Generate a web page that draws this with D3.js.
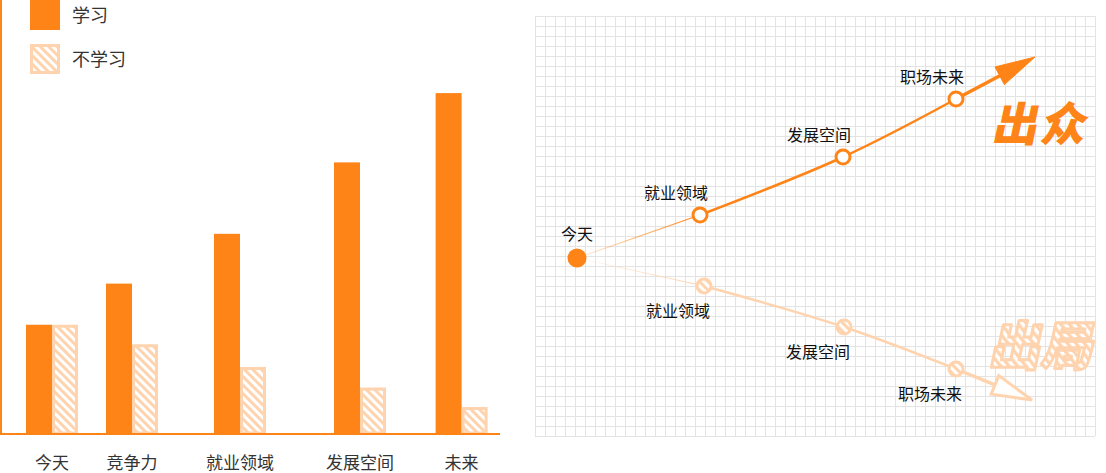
<!DOCTYPE html>
<html>
<head>
<meta charset="utf-8">
<script src="https://cdn.jsdelivr.net/npm/d3@7/dist/d3.min.js"></script>
<style>
  body { margin: 0; background: #fff; }
  svg { display: block; font-family: "Noto Sans CJK SC", "Noto Sans", sans-serif; }
</style>
</head>
<body>
<div id="chart"></div>
<script>
// bar chart data
const stages = ["今天", "竞争力", "就业领域", "发展空间", "未来"];
const stageAt = [1, 2, 3.35, 4.85, 6.12];      // stage position on the x axis
const study = [10, 13.8, 18.4, 25, 31.4];
const noStudy = [10, 8.2, 6.1, 4.2, 2.4];
const seriesNames = ["学习", "不学习"];

// path chart data (grid units)
const pathLabels = ["今天", "就业领域", "发展空间", "职场未来"];
const upX = [4.2, 16.5, 30.8, 42.1];
const upY = [17.8, 22.1, 27.9, 33.7];
const downX = [4.2, 16.9, 30.9, 42.1];
const downY = [17.8, 15.0, 10.9, 6.7];
const upTip = [50.0, 37.9];
const downTip = [49.7, 3.6];

const orange = "#ff8417";
const light = "#ffd3ad";

const svg = d3.select("#chart").append("svg")
    .attr("width", 1106)
    .attr("height", 473);

const defs = svg.append("defs");
const hatch = defs.append("pattern")
    .attr("id", "hatch")
    .attr("patternUnits", "userSpaceOnUse")
    .attr("width", 6).attr("height", 6)
    .attr("patternTransform", "rotate(-45)");
hatch.append("rect").attr("width", 6).attr("height", 6).attr("fill", "#fff");
hatch.append("rect").attr("width", 3).attr("height", 6).attr("fill", light);

// ---------- left: bars ----------
const x = d3.scaleLinear().domain([0.35, 6.6]).range([0, 500]);
const y = d3.scaleLinear().domain([0, 40]).range([433, 0]);
const bw = 26;

const bars = svg.append("g");

bars.selectAll(".study")
    .data(study)
    .enter().append("rect")
    .attr("x", (d, i) => x(stageAt[i]) - bw)
    .attr("y", d => y(d))
    .attr("width", bw)
    .attr("height", d => y(0) - y(d))
    .attr("fill", orange);

bars.selectAll(".nostudy")
    .data(noStudy)
    .enter().append("rect")
    .attr("x", (d, i) => x(stageAt[i]) + 1.5)
    .attr("y", d => y(d) + 1.5)
    .attr("width", bw - 3)
    .attr("height", d => y(0) - y(d) - 1.5)
    .attr("fill", "url(#hatch)")
    .attr("stroke", light)
    .attr("stroke-width", 3);

// axes lines
svg.append("line").attr("x1", 1).attr("x2", 1).attr("y1", 0).attr("y2", y(0))
    .attr("stroke", orange).attr("stroke-width", 2);
svg.append("line").attr("x1", 0).attr("x2", 500).attr("y1", y(0) + 1).attr("y2", y(0) + 1)
    .attr("stroke", orange).attr("stroke-width", 2);

bars.selectAll(".lab")
    .data(stages)
    .enter().append("text")
    .attr("x", (d, i) => x(stageAt[i]))
    .attr("y", 469)
    .attr("text-anchor", "middle")
    .attr("font-size", 17)
    .attr("fill", "#333")
    .text(d => d);

// legend
const legend = svg.append("g");
legend.append("rect").attr("x", 30).attr("y", 0).attr("width", 30).attr("height", 30).attr("fill", orange);
legend.append("rect").attr("x", 31.5).attr("y", 45.5).attr("width", 27).attr("height", 27)
    .attr("fill", "url(#hatch)").attr("stroke", light).attr("stroke-width", 3);
legend.selectAll("text")
    .data(seriesNames)
    .enter().append("text")
    .attr("x", 72)
    .attr("y", (d, i) => 22 + i * 44)
    .attr("font-size", 18)
    .attr("fill", "#333")
    .text(d => d);

// ---------- right: grid and paths ----------
const gx = d3.scaleLinear().domain([0, 56]).range([535, 1095]);
const gy = d3.scaleLinear().domain([0, 42]).range([436, 16]);

const grid = svg.append("g").attr("stroke", "#e3e3e3").attr("stroke-width", 1);
grid.selectAll(".v")
    .data(d3.range(0, 57))
    .enter().append("line")
    .attr("x1", d => gx(d) + 0.5).attr("x2", d => gx(d) + 0.5)
    .attr("y1", gy(42)).attr("y2", gy(0));
grid.selectAll(".h")
    .data(d3.range(0, 43))
    .enter().append("line")
    .attr("y1", d => gy(d) + 0.5).attr("y2", d => gy(d) + 0.5)
    .attr("x1", gx(0)).attr("x2", gx(56));

function fadeGrad(id, color, x1, y1, x2, y2) {
    const g = defs.append("linearGradient").attr("id", id)
        .attr("gradientUnits", "userSpaceOnUse")
        .attr("x1", x1).attr("y1", y1).attr("x2", x2).attr("y2", y2);
    g.append("stop").attr("offset", 0).attr("stop-color", color).attr("stop-opacity", 0);
    g.append("stop").attr("offset", 1).attr("stop-color", color).attr("stop-opacity", 1);
}
fadeGrad("upFade", orange, gx(upX[0]) - 15, gy(upY[0]), gx(upX[1]), gy(upY[1]));
fadeGrad("downFade", light, gx(downX[0]) - 15, gy(downY[0]), gx(downX[1]), gy(downY[1]));

function drawPath(xs, ys, tip, color, fade, hollowHead, widths) {
    const g = svg.append("g");
    const pts = xs.map((d, i) => [gx(d), gy(ys[i])]);
    const t = [gx(tip[0]), gy(tip[1])];
    // first faded segment, starting a little before the origin
    const dx = pts[1][0] - pts[0][0], dy = pts[1][1] - pts[0][1];
    const len = Math.hypot(dx, dy);
    g.append("line")
        .attr("x1", pts[0][0] - dx / len * 15).attr("y1", pts[0][1] - dy / len * 15)
        .attr("x2", pts[1][0]).attr("y2", pts[1][1])
        .attr("stroke", "url(#" + fade + ")").attr("stroke-width", widths[0]);
    // head geometry
    const hx = t[0] - pts[3][0], hy = t[1] - pts[3][1];
    const hl = Math.hypot(hx, hy);
    const ux = hx / hl, uy = hy / hl;
    const headLen = 40, headW = 10;
    const base = [t[0] - ux * headLen, t[1] - uy * headLen];
    const curve = d3.line().curve(d3.curveCatmullRom);
    g.append("path")
        .attr("d", curve([pts[1], pts[2], pts[3]]))
        .attr("fill", "none").attr("stroke", color).attr("stroke-width", widths[1]);
    g.append("line")
        .attr("x1", pts[3][0]).attr("y1", pts[3][1])
        .attr("x2", base[0] + ux * (hollowHead ? 0 : 5)).attr("y2", base[1] + uy * (hollowHead ? 0 : 5))
        .attr("stroke", color).attr("stroke-width", widths[2]);
    const head = [t,
        [base[0] - uy * headW, base[1] + ux * headW],
        [base[0] + uy * headW, base[1] - ux * headW]];
    g.append("path")
        .attr("d", "M" + head.join("L") + "Z")
        .attr("fill", hollowHead ? "#fff" : color)
        .attr("stroke", color)
        .attr("stroke-width", hollowHead ? 3 : 1)
        .attr("stroke-linejoin", "miter");
    return {g: g, pts: pts};
}

const up = drawPath(upX, upY, upTip, orange, "upFade", false, [1.2, 2.5, 3.5]);
const down = drawPath(downX, downY, downTip, light, "downFade", true, [1.2, 2.5, 3.5]);

// markers
svg.append("circle").attr("cx", up.pts[0][0]).attr("cy", up.pts[0][1]).attr("r", 9.5).attr("fill", orange);
svg.selectAll(".upDot")
    .data(up.pts.slice(1))
    .enter().append("circle")
    .attr("cx", d => d[0]).attr("cy", d => d[1]).attr("r", 7)
    .attr("fill", "#fff").attr("stroke", orange).attr("stroke-width", 3);
svg.selectAll(".downDot")
    .data(down.pts.slice(1))
    .enter().append("circle")
    .attr("cx", d => d[0]).attr("cy", d => d[1]).attr("r", 7)
    .attr("fill", "url(#hatch)").attr("stroke", light).attr("stroke-width", 3);

// labels
svg.append("text").attr("x", up.pts[0][0]).attr("y", 240)
    .attr("text-anchor", "middle").attr("font-size", 16).attr("fill", "#111").text(pathLabels[0]);
svg.selectAll(".upLab")
    .data(up.pts.slice(1))
    .enter().append("text")
    .attr("x", d => d[0] - 24).attr("y", d => d[1] - 16)
    .attr("text-anchor", "middle").attr("font-size", 16).attr("fill", "#111")
    .text((d, i) => pathLabels[i + 1]);
svg.selectAll(".downLab")
    .data(down.pts.slice(1))
    .enter().append("text")
    .attr("x", d => d[0] - 26).attr("y", d => d[1] + 31)
    .attr("text-anchor", "middle").attr("font-size", 16).attr("fill", "#111")
    .text((d, i) => pathLabels[i + 1]);

// big words
svg.append("text")
    .attr("transform", "translate(1039,141) skewX(-12)")
    .attr("text-anchor", "middle").attr("font-size", 46).attr("font-weight", 900)
    .attr("fill", orange).attr("letter-spacing", 2)
    .text("出众");
svg.append("text")
    .attr("transform", "translate(1040,365) skewX(-12)")
    .attr("text-anchor", "middle").attr("font-size", 52).attr("font-weight", 900)
    .attr("fill", "url(#hatch)").attr("stroke", light).attr("stroke-width", 3)
    .attr("stroke-linejoin", "round")
    .text("出局");
</script>
</body>
</html>
